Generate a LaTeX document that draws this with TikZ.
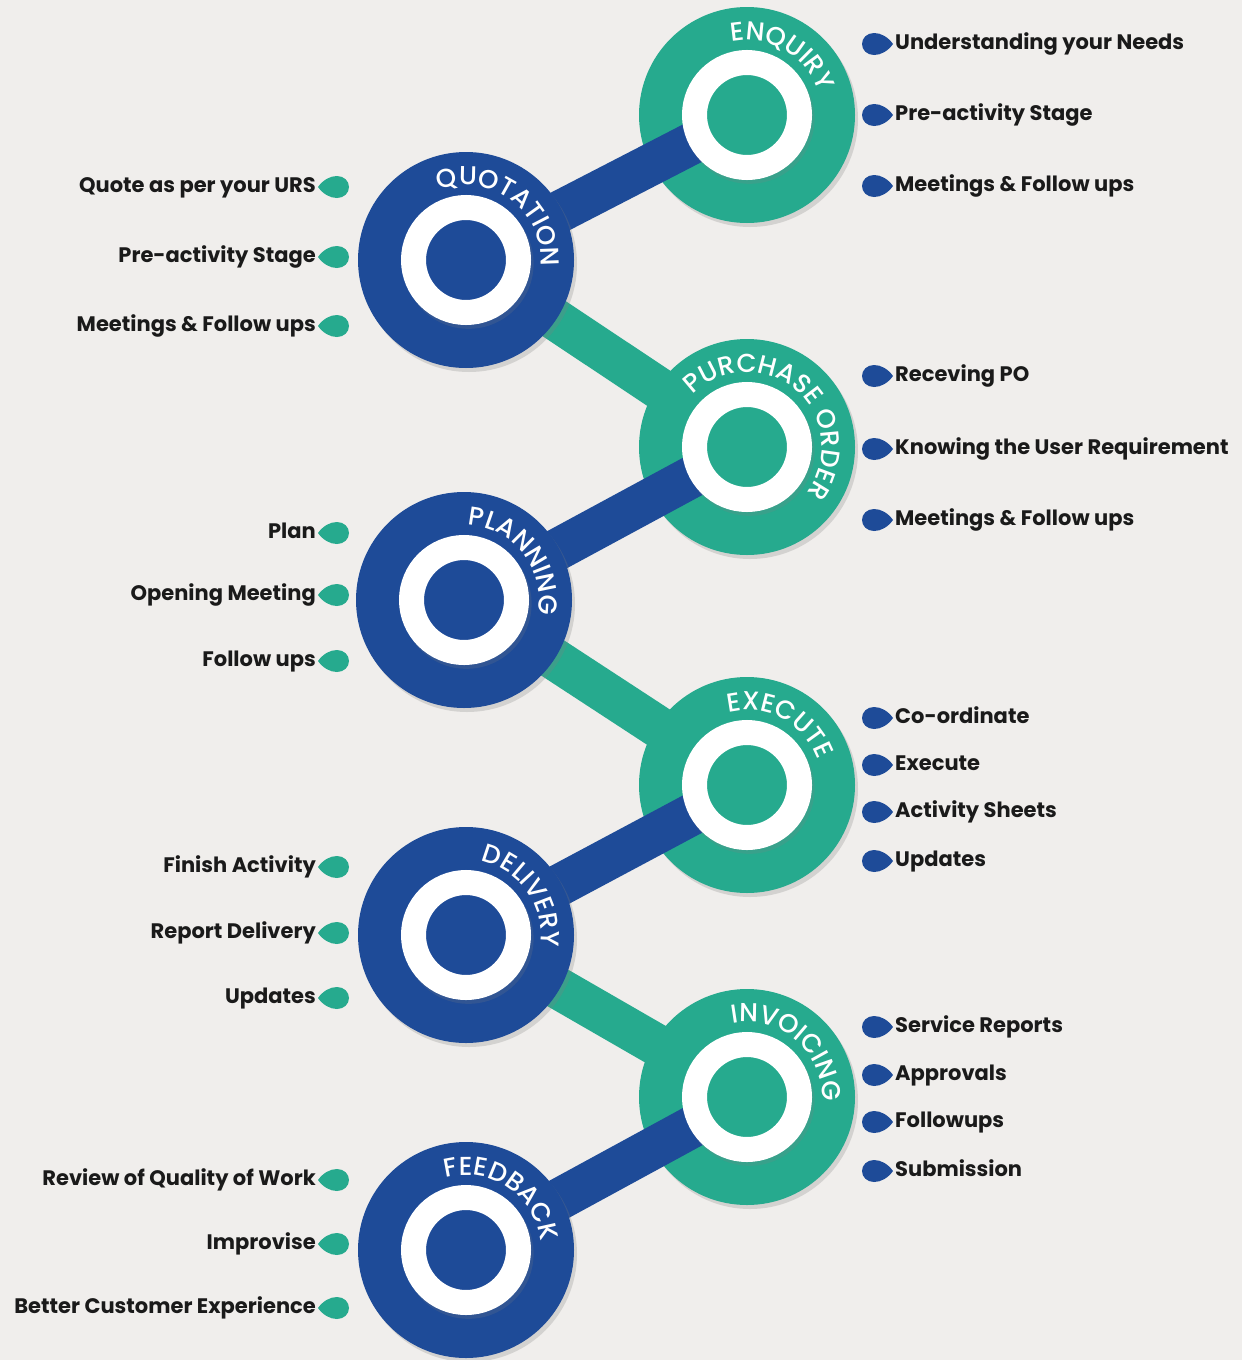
\documentclass[tikz,border=0pt]{standalone}
\usepackage{fontspec}
\setmainfont{Poppins}
\newfontfamily\arcfam{Poppins}[UprightFont=*-Medium]
\usetikzlibrary{shadows,decorations.text}

\definecolor{bgC}{RGB}{240,238,236}
\definecolor{blueC}{RGB}{30,75,152}
\definecolor{tealC}{RGB}{38,170,142}
\definecolor{inkC}{RGB}{26,26,26}

\newcommand\arcfont{\arcfam\fontsize{26pt}{26pt}\selectfont}

\pgfdeclarelayer{lowbar}
\pgfdeclarelayer{top}
\pgfsetlayers{lowbar,main,top}

\tikzset{
  stagedisc/.style={circle,minimum size=216pt,inner sep=0pt,fill=#1,
    drop shadow={opacity=0.25,shadow xshift=3pt,shadow yshift=-4pt}},
  stagering/.style={circle,minimum size=105pt,inner sep=0pt,draw=white,line width=25pt,fill=#1,
    drop shadow={opacity=0.2,shadow scale=1.24,shadow xshift=2pt,shadow yshift=-3pt}},
  stagebar/.style={line width=42pt,#1},
  ritem/.style={anchor=west,inner sep=2pt,text=inkC,text height=15pt,text depth=4pt,
    font=\bfseries\fontsize{21pt}{24pt}\selectfont},
  litem/.style={ritem,anchor=east},
  rleaf/.pic={\fill[blueC] (0,0) .. controls (-5,7) and (-12,11) .. (-19,11)
    .. controls (-26,11) and (-31,6) .. (-31,0) .. controls (-31,-6) and (-26,-11) .. (-19,-11)
    .. controls (-12,-11) and (-5,-7) .. (0,0) -- cycle;},
  lleaf/.pic={\fill[tealC] (0,0) .. controls (5,7) and (12,11) .. (19,11)
    .. controls (26,11) and (31,6) .. (31,0) .. controls (31,-6) and (26,-11) .. (19,-11)
    .. controls (12,-11) and (5,-7) .. (0,0) -- cycle;}
}

\begin{document}
\begin{tikzpicture}[x=1pt,y=1pt]

\begin{pgfonlayer}{lowbar}
\fill[bgC] (0,0) rectangle (1242,-1360);
\end{pgfonlayer}
\useasboundingbox (0,0) rectangle (1242,-1360);

% teal stages
\node[stagedisc=tealC] (enq) at (747,-115) {};
\node[stagedisc=tealC] (po) at (747,-447) {};
\node[stagedisc=tealC] (exe) at (747,-785) {};
\node[stagedisc=tealC] (inv) at (747,-1097) {};

% blue stages
\begin{pgfonlayer}{top}
\node[stagedisc=blueC] (quo) at (466,-260) {};
\node[stagedisc=blueC] (pla) at (464,-600) {};
\node[stagedisc=blueC] (del) at (466,-935) {};
\node[stagedisc=blueC] (fee) at (466,-1250) {};
\node[stagering=blueC] at (quo.center) {};
\node[stagering=blueC] at (pla.center) {};
\node[stagering=blueC] at (del.center) {};
\node[stagering=blueC] at (fee.center) {};
\end{pgfonlayer}

% links
\begin{pgfonlayer}{lowbar}
\draw[stagebar=tealC] (quo.center) -- (po.center);
\draw[stagebar=tealC] (pla.center) -- (exe.center);
\draw[stagebar=tealC] (del.center) -- (inv.center);
\end{pgfonlayer}
\draw[stagebar=blueC] (quo.center) -- (enq.center);
\draw[stagebar=blueC] (pla.center) -- (po.center);
\draw[stagebar=blueC] (del.center) -- (exe.center);
\draw[stagebar=blueC] (fee.center) -- (inv.center);

\node[stagering=tealC] at (enq.center) {};
\node[stagering=tealC] at (po.center) {};
\node[stagering=tealC] at (exe.center) {};
\node[stagering=tealC] at (inv.center) {};

% stage names
\begin{pgfonlayer}{top}
\path[decorate,decoration={text along path,text color=white,text align=center,text={|\arcfont|ENQUIRY}}]
  ([shift={(160:75pt)}]enq.center) arc[start angle=160,end angle=-40,radius=75pt];
\path[decorate,decoration={text along path,text color=white,text align=center,text={|\arcfont|QUOTATION}}]
  ([shift={(153:75pt)}]quo.center) arc[start angle=153,end angle=-47,radius=75pt];
\path[decorate,decoration={text along path,text color=white,text align=center,text={|\arcfont|PURCHASE ORDER}}]
  ([shift={(149:75pt)}]po.center) arc[start angle=149,end angle=-51,radius=75pt];
\path[decorate,decoration={text along path,text color=white,text align=center,text={|\arcfont|PLANNING}}]
  ([shift={(138:75pt)}]pla.center) arc[start angle=138,end angle=-62,radius=75pt];
\path[decorate,decoration={text along path,text color=white,text align=center,text={|\arcfont|EXECUTE}}]
  ([shift={(162:75pt)}]exe.center) arc[start angle=162,end angle=-38,radius=75pt];
\path[decorate,decoration={text along path,text color=white,text align=center,text={|\arcfont|DELIVERY}}]
  ([shift={(135:75pt)}]del.center) arc[start angle=135,end angle=-65,radius=75pt];
\path[decorate,decoration={text along path,text color=white,text align=center,text={|\arcfont|INVOICING}}]
  ([shift={(149:75pt)}]inv.center) arc[start angle=149,end angle=-51,radius=75pt];
\path[decorate,decoration={text along path,text color=white,text align=center,text={|\arcfont|FEEDBACK}}]
  ([shift={(156:75pt)}]fee.center) arc[start angle=156,end angle=-44,radius=75pt];
\end{pgfonlayer}

% right lists
\node[ritem] (enq1) at (893,-44) {Understanding your Needs};
\node[ritem] (enq2) at (893,-115) {Pre-activity Stage};
\node[ritem] (enq3) at (893,-186) {Meetings \& Follow ups};
\node[ritem] (po1) at (893,-376) {Receving PO};
\node[ritem] (po2) at (893,-449) {Knowing the User Requirement};
\node[ritem] (po3) at (893,-520) {Meetings \& Follow ups};
\node[ritem] (exe1) at (893,-718) {Co-ordinate};
\node[ritem] (exe2) at (893,-765) {Execute};
\node[ritem] (exe3) at (893,-812) {Activity Sheets};
\node[ritem] (exe4) at (893,-861) {Updates};
\node[ritem] (inv1) at (893,-1027) {Service Reports};
\node[ritem] (inv2) at (893,-1075) {Approvals};
\node[ritem] (inv3) at (893,-1122) {Followups};
\node[ritem] (inv4) at (893,-1171) {Submission};

% left lists
\node[litem] (quo1) at (318,-187) {Quote as per your URS};
\node[litem] (quo2) at (318,-257) {Pre-activity Stage};
\node[litem] (quo3) at (318,-326) {Meetings \& Follow ups};
\node[litem] (pla1) at (318,-533) {Plan};
\node[litem] (pla2) at (318,-595) {Opening Meeting};
\node[litem] (pla3) at (318,-661) {Follow ups};
\node[litem] (del1) at (318,-867) {Finish Activity};
\node[litem] (del2) at (318,-933) {Report Delivery};
\node[litem] (del3) at (318,-998) {Updates};
\node[litem] (fee1) at (318,-1180) {Review of Quality of Work};
\node[litem] (fee2) at (318,-1244) {Improvise};
\node[litem] (fee3) at (318,-1308) {Better Customer Experience};

\foreach \n in {enq1,enq2,enq3,po1,po2,po3,exe1,exe2,exe3,exe4,inv1,inv2,inv3,inv4}
  \pic at (\n.west) {rleaf};
\foreach \n in {quo1,quo2,quo3,pla1,pla2,pla3,del1,del2,del3,fee1,fee2,fee3}
  \pic at (\n.east) {lleaf};

\end{tikzpicture}
\end{document}
